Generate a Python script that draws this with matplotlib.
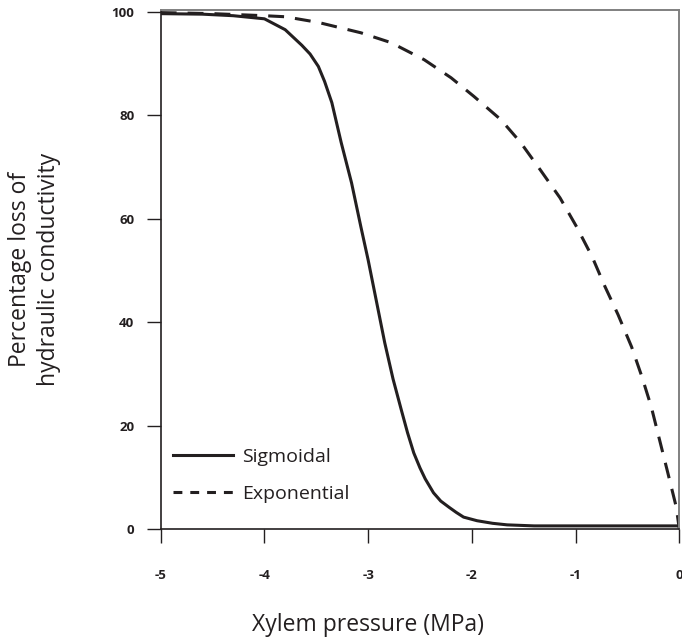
import matplotlib
matplotlib.use("Agg")
import matplotlib.pyplot as plt
from matplotlib.lines import Line2D

# valores
sig_x = [-5.0, -4.6, -4.3, -4.0, -3.8, -3.64, -3.56, -3.48, -3.42, -3.35, -3.26, -3.16,
         -3.07, -3.0, -2.92, -2.84, -2.76, -2.68, -2.62, -2.56, -2.5, -2.45, -2.37,
         -2.3, -2.22, -2.15, -2.08, -1.95, -1.8, -1.66, -1.4, -1.0, -0.5, 0.0]
sig_y = [99.6, 99.5, 99.2, 98.6, 96.5, 93.5, 91.8, 89.4, 86.5, 82.4, 74.7, 66.9,
         58.4, 52.0, 44.0, 36.0, 29.0, 23.0, 18.6, 14.7, 11.8, 9.7, 7.0,
         5.4, 4.2, 3.2, 2.3, 1.6, 1.1, 0.8, 0.6, 0.6, 0.6, 0.6]

exp_x = [-5.0, -4.5, -4.0, -3.8, -3.48, -3.07, -2.78, -2.46, -2.2, -1.98, -1.72, -1.53,
         -1.34, -1.15, -0.99, -0.84, -0.72, -0.59, -0.46, -0.36, -0.27, -0.19, -0.11,
         -0.03, 0.0]
exp_y = [99.8, 99.6, 99.2, 99.0, 97.9, 95.9, 94.0, 90.7, 87.2, 83.6, 79.1, 74.7,
         69.4, 64.0, 58.4, 52.6, 47.0, 41.4, 35.2, 29.4, 23.6, 17.2, 10.8,
         4.3, 0.0]

xticks = [-5, -4, -3, -2, -1, 0]
yticks = [0, 20, 40, 60, 80, 100]
labels = ["Sigmoidal", "Exponential"]

preto = "#231f20"
plt.rcParams["font.family"] = ["Open Sans", "DejaVu Sans"]

fig = plt.figure(figsize=(6.82, 6.41), dpi=100)
ax = fig.add_axes([160.7 / 682, 1 - 529 / 641, 518.6 / 682, 519.5 / 641])

ax.plot(sig_x, sig_y, color=preto, lw=2.2, solid_joinstyle="round")
ax.plot(exp_x, exp_y, color=preto, lw=2.2, dashes=(5.2, 3.6))

ax.set_xlim(-5, 0)
ax.set_ylim(0, 100.4)
ax.set_xticks(xticks)
ax.set_xticklabels([str(v) for v in xticks])
ax.set_yticks(yticks)
ax.set_yticklabels([str(v) for v in yticks])
ax.tick_params(direction="out", length=10, width=1.0, color=preto,
               labelsize=9.5, labelcolor=preto)
ax.tick_params(axis="x", pad=19)
ax.tick_params(axis="y", pad=9)
for t in ax.get_xticklabels() + ax.get_yticklabels():
    t.set_fontweight("bold")

for lado in ["left", "bottom"]:
    ax.spines[lado].set_color(preto)
    ax.spines[lado].set_linewidth(1.2)
for lado in ["top", "right"]:
    ax.spines[lado].set_color("#808080")
    ax.spines[lado].set_linewidth(1.4)

ax.set_xlabel("Xylem pressure (MPa)", fontsize=16.5, color=preto, labelpad=22, x=0.4)
ax.set_ylabel("Percentage loss of\nhydraulic conductivity", fontsize=16.5,
              color=preto, labelpad=36, linespacing=1.3)

handles = [Line2D([], [], color=preto, lw=2.2),
           Line2D([], [], color=preto, lw=2.2, dashes=(2.9, 2.6))]
ax.legend(handles, labels, loc="lower left", bbox_to_anchor=(0.005, 0.031),
          frameon=False, fontsize=14, handlelength=3.1, handletextpad=0.45,
          labelspacing=1.0, borderpad=0, labelcolor=preto)

fig.savefig("out.png", dpi=100)
